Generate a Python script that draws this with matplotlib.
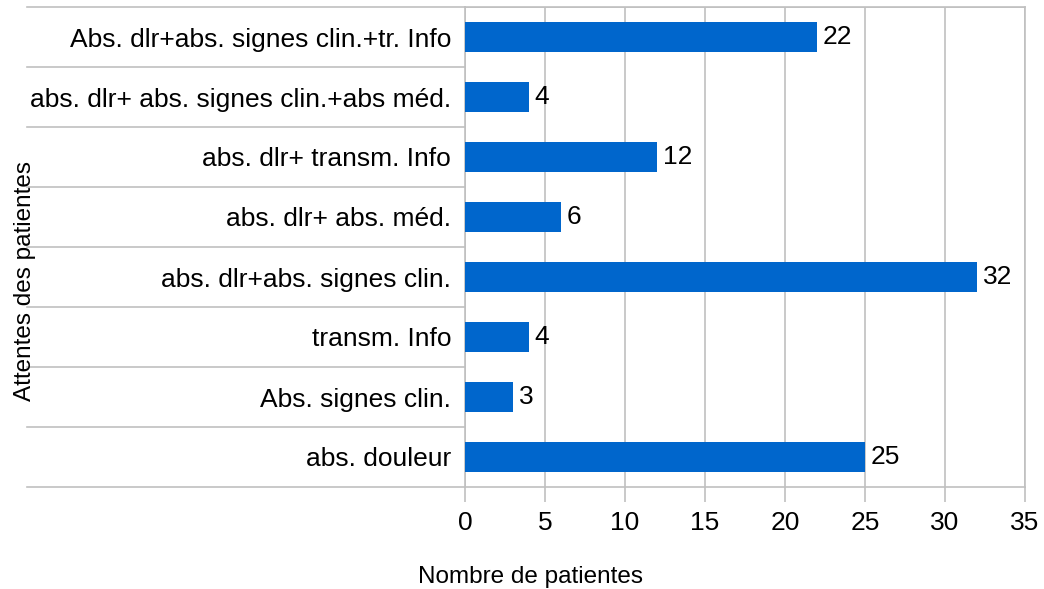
import matplotlib.pyplot as plt

plt.rcParams['font.family'] = ['Liberation Sans', 'DejaVu Sans']

# categories bottom -> top
categories = [
    "abs. douleur",
    "Abs. signes clin.",
    "transm. Info",
    "abs. dlr+abs. signes clin.",
    "abs. dlr+ abs. méd.",
    "abs. dlr+ transm. Info",
    "abs. dlr+ abs. signes clin.+abs méd.",
    "Abs. dlr+abs. signes clin.+tr. Info",
]
counts = [25, 3, 4, 32, 6, 12, 4, 22]
xticks = [0, 5, 10, 15, 20, 25, 30, 35]

grid_col = "#c0c0c0"
bar_col = "#0066cc"

fig = plt.figure(figsize=(10.44, 5.89), dpi=100)
ax = fig.add_axes([465 / 1044, 1 - 487 / 589, 560 / 1044, 480 / 589])

n = len(categories)
ypos = range(n)
ax.barh(ypos, counts, height=0.5, color=bar_col, zorder=3)
for y, v in zip(ypos, counts):
    ax.text(v + 0.35, y, str(v), va="center", ha="left", fontsize=19, zorder=4)

ax.set_xlim(0, 35)
ax.set_ylim(-0.5, n - 0.5)
ax.set_xticks(xticks)
ax.set_xticklabels([str(t) for t in xticks], fontsize=19)
ax.set_yticks(list(ypos))
ax.set_yticklabels(categories, fontsize=19)
ax.tick_params(axis="y", length=0, pad=10)
ax.tick_params(axis="x", length=11, width=1.2, color=grid_col, pad=6, direction="out")

ax.grid(axis="x", color=grid_col, linewidth=1.2, zorder=0)
for s in ax.spines.values():
    s.set_color(grid_col)
    s.set_linewidth(1.2)

# category separators extending into the label area
x0 = (27 - 465) / 560 * 35
for k in range(n + 1):
    ax.plot([x0, 0], [k - 0.5, k - 0.5], color=grid_col, linewidth=1.2,
            clip_on=False, zorder=1)
ax.plot([0, 35], [n - 0.5, n - 0.5], color=grid_col, linewidth=1.2, zorder=1)

fig.text(531 / 1044, 1 - 577 / 589, "Nombre de patientes", ha="center", va="center", fontsize=17.5)
fig.text(25 / 1044, 1 - 281 / 589, "Attentes des patientes", ha="center", va="center",
         rotation=90, fontsize=17.5)

fig.savefig("out.png", dpi=100)
